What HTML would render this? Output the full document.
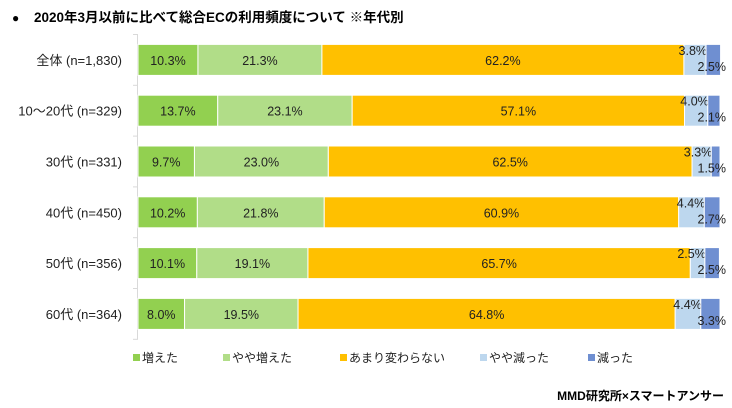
<!DOCTYPE html>
<html><head><meta charset="utf-8"><style>
body{margin:0;background:#fff;font-family:"Liberation Sans","Noto Sans CJK JP",sans-serif;}
#wrap{position:relative;width:732px;height:408px;overflow:hidden;}
</style></head><body>
<div id="wrap">
<svg id="svg" width="732" height="408"></svg>
</div>
<script>
const categories=["全体 (n=1,830)","10～20代 (n=329)","30代 (n=331)","40代 (n=450)","50代 (n=356)","60代 (n=364)"];
const seriesNames=["増えた","やや増えた","あまり変わらない","やや減った","減った"];
const s1=[10.3,13.7,9.7,10.2,10.1,8.0];
const s2=[21.3,23.1,23.0,21.8,19.1,19.5];
const s3=[62.2,57.1,62.5,60.9,65.7,64.8];
const s4=[3.8,4.0,3.3,4.4,2.5,4.4];
const s5=[2.5,2.1,1.5,2.7,2.5,3.3];
const series=[s1,s2,s3,s4,s5];
const colors=["#92d050","#b1dd88","#ffc000","#bdd7ee","#6f8fd1"];
const NS="http://www.w3.org/2000/svg";
const svg=document.getElementById('svg');
const x0=138,x1=720,yTop=34.5,rowH=50.8,barH=31;
function xs(v){return x0+(x1-x0)*v/100;}
function yc(i){return yTop+rowH*i+rowH/2;}
function mk(t,a,p){const e=document.createElementNS(NS,t);for(const k in a)e.setAttribute(k,a[k]);(p||svg).appendChild(e);return e;}
let b=mk('text',{x:12,y:22,'font-size':'12',fill:'#000'});
b.textContent="●";


let t=mk('text',{x:34,y:22,'font-size':'13.5','font-weight':'bold',fill:'#000'});
t.textContent="2020年3月以前に比べて総合ECの利用頻度について ※年代別";


let ax=mk('line',{x1:x0-0.5,x2:x0-0.5,y1:yTop,y2:yTop+rowH*6,stroke:'#d9d9d9'});


for(let i=0;i<=6;i++){const tk=mk('line',{x1:x0-5,x2:x0,y1:yTop+rowH*i,y2:yTop+rowH*i,stroke:'#d9d9d9'});

}
categories.forEach((c,i)=>{
  const lb=mk('text',{x:122,y:yc(i)+5,'font-size':'13','text-anchor':'end',fill:'#222'});
  lb.textContent=c;
  
  
  let cum=0;
  series.forEach((s,j)=>{
    const v=s[i];const xa=xs(cum),xb=xs(cum+v);cum+=v;
    const r=mk('rect',{x:xa,y:yc(i)-barH/2,width:Math.max(0,xb-xa),height:barH,fill:colors[j],stroke:'#fff','stroke-width':1});
    
    
    const lt=mk('text',{'font-size':'12.5',fill:'#222'});
    lt.textContent=v.toFixed(1)+"%";
    
    
    if(j<3){lt.setAttribute('x',(xa+xb)/2);lt.setAttribute('y',yc(i)+5);lt.setAttribute('text-anchor','middle');}
    else if(j==3){lt.setAttribute('x',xb+1);lt.setAttribute('y',yc(i)-5);lt.setAttribute('text-anchor','end');}
    else{lt.setAttribute('x',726);lt.setAttribute('y',yc(i)+11);lt.setAttribute('text-anchor','end');}
  });
});
const lx=[133,223,340,480,588];
seriesNames.forEach((n,j)=>{
  const g=mk('g',{});
  
  
  mk('rect',{x:lx[j],y:354,width:7,height:7,fill:colors[j]},g);
  const tt=mk('text',{x:lx[j]+9,y:362,'font-size':'12',fill:'#222'},g);
  tt.textContent=n;
});
let src=mk('text',{x:724,y:400,'font-size':'12','font-weight':'bold','text-anchor':'end',fill:'#000'});
src.textContent="MMD研究所×スマートアンサー";


</script>
</body></html>
